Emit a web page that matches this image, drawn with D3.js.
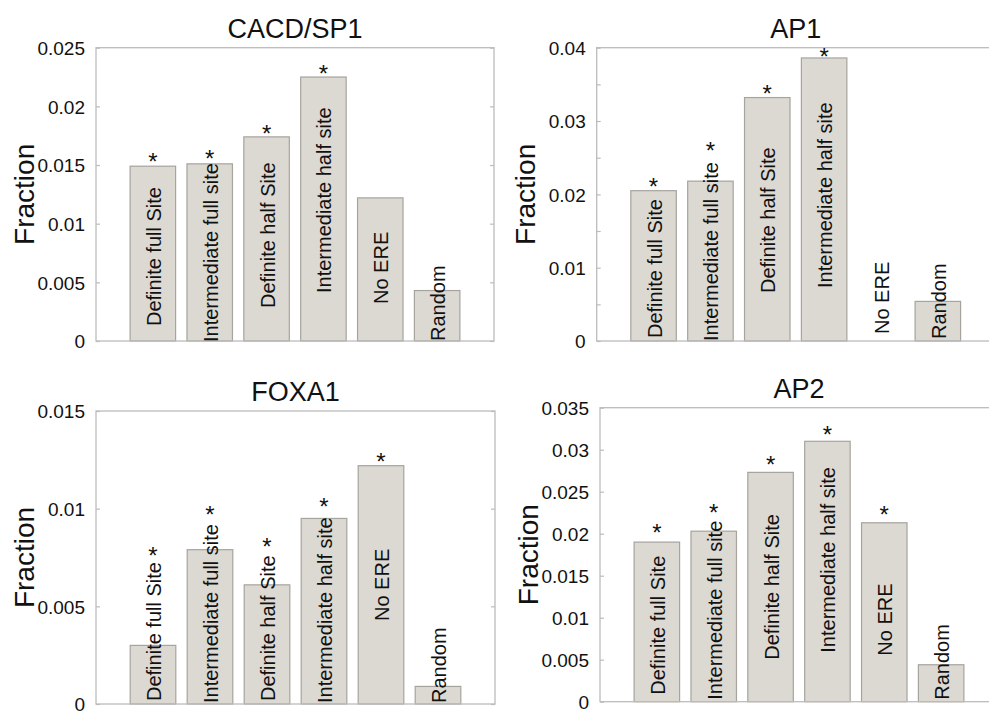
<!DOCTYPE html>
<html>
<head>
<meta charset="utf-8">
<script src="https://cdn.jsdelivr.net/npm/d3@7/dist/d3.min.js"></script>
<style>
  body { margin: 0; background: #ffffff; }
  svg { display: block; }
  text { font-family: "Liberation Sans", Arial, Helvetica, sans-serif; fill: #111111; }
</style>
</head>
<body>
<svg id="chart" width="989" height="711"></svg>
<script>
// ---- data ----
const categories = ["Definite full Site", "Intermediate full site", "Definite half Site",
                    "Intermediate half site", "No ERE", "Random"];
const titles = ["CACD/SP1", "AP1", "FOXA1", "AP2"];

const cacdValues  = [0.0149, 0.0151, 0.0174, 0.0225, 0.0122, 0.0043];
const ap1Values   = [0.0205, 0.0218, 0.0332, 0.0386, 0.0,    0.0054];
const foxa1Values = [0.0030, 0.0079, 0.0061, 0.0095, 0.0122, 0.0009];
const ap2Values   = [0.0190, 0.0203, 0.0273, 0.0310, 0.0213, 0.0044];

// significance markers (*) per bar
const cacdSignificant  = [true, true, true, true, false, false];
const ap1Significant   = [true, true, true, true, false, false];
const foxa1Significant = [true, true, true, true, true,  false];
const ap2Significant   = [true, true, true, true, true,  false];

// y-axis ticks and their labels
const cacdTicks  = [0, 0.005, 0.01, 0.015, 0.02, 0.025];
const cacdTickLabels  = ["0", "0.005", "0.01", "0.015", "0.02", "0.025"];
const ap1Ticks   = [0, 0.005, 0.01, 0.015, 0.02, 0.025, 0.03, 0.035, 0.04];
const ap1TickLabels   = ["0", "", "0.01", "", "0.02", "", "0.03", "", "0.04"];
const foxa1Ticks = [0, 0.005, 0.01, 0.015];
const foxa1TickLabels = ["0", "0.005", "0.01", "0.015"];
const ap2Ticks   = [0, 0.005, 0.01, 0.015, 0.02, 0.025, 0.03, 0.035];
const ap2TickLabels   = ["0", "0.005", "0.01", "0.015", "0.02", "0.025", "0.03", "0.035"];

const yLabel = "Fraction";

// ---- layout ----
const panels = [
  { title: titles[0], values: cacdValues,  sig: cacdSignificant,  ticks: cacdTicks,  tickLabels: cacdTickLabels,
    box: { left: 96,  top: 47.7,  width: 398, height: 293.3 },
    labelLift: [15, -1, 33, 48, 37, 0],   starGap: [9.5, 10.5, 9, 9, 0, 0] },
  { title: titles[1], values: ap1Values,   sig: ap1Significant,   ticks: ap1Ticks,   tickLabels: ap1TickLabels,
    box: { left: 596.7, top: 47.7, width: 398, height: 293.3 },
    labelLift: [3, 0, 48, 53, 7, 2],      starGap: [9.7, 36, 9.4, 6.5, 0, 0] },
  { title: titles[2], values: foxa1Values, sig: foxa1Significant, ticks: foxa1Ticks, tickLabels: foxa1TickLabels,
    box: { left: 96,  top: 411,   width: 399, height: 293 },
    labelLift: [3, 1, 3, 1, 83, 1],       starGap: [95, 40, 44, 17, 9.3, 0] },
  { title: titles[3], values: ap2Values,   sig: ap2Significant,   ticks: ap2Ticks,   tickLabels: ap2TickLabels,
    box: { left: 600, top: 407.7, width: 398, height: 294 },
    labelLift: [7, 2, 42, 49, 46, 2],     starGap: [15, 23.7, 12.7, 12.4, 13.3, 0] }
];

const style = {
  barFill: "#dcd8d2", barStroke: "#a7a39e", axisStroke: "#bcbcbc",
  titleSize: 27, tickSize: 19, yLabelSize: 28, barLabelSize: 20, starSize: 24
};

const svg = d3.select("#chart");

panels.forEach(p => {
  const { left, top, width, height } = p.box;
  const unit = width / 7; // x axis spans 0..7 with bars centred at 1..6
  const g = svg.append("g").attr("transform", `translate(${left},${top})`);

  const x = d3.scaleBand()
    .domain(categories)
    .range([0.5 * unit, 6.5 * unit])
    .paddingInner(0.2)
    .paddingOuter(0.1);

  const yMax = p.ticks[p.ticks.length - 1];
  const y = d3.scaleLinear().domain([0, yMax]).range([height, 0]);

  // bars
  g.selectAll("rect.bar")
    .data(p.values.map((v, i) => ({ v, c: categories[i], i })).filter(d => d.v > 0))
    .join("rect")
    .attr("class", "bar")
    .attr("x", d => x(d.c))
    .attr("width", x.bandwidth())
    .attr("y", d => y(d.v))
    .attr("height", d => height - y(d.v))
    .attr("fill", style.barFill)
    .attr("stroke", style.barStroke)
    .attr("stroke-width", 1.2);

  // axis box
  g.append("rect")
    .attr("x", 0).attr("y", 0).attr("width", width).attr("height", height)
    .attr("fill", "none").attr("stroke", style.axisStroke).attr("stroke-width", 1.3);

  // left axis with inward ticks
  const labelFor = new Map(p.ticks.map((t, i) => [t, p.tickLabels[i]]));
  const leftAxis = d3.axisLeft(y)
    .tickValues(p.ticks)
    .tickSize(-4)
    .tickPadding(11)
    .tickFormat(t => labelFor.get(t));
  const la = g.append("g").call(leftAxis);
  la.select(".domain").remove();
  la.selectAll(".tick line").attr("stroke", style.axisStroke).attr("stroke-width", 1.2);
  la.selectAll(".tick text")
    .attr("font-size", style.tickSize)
    .attr("font-family", "Liberation Sans, Arial, sans-serif")
    .attr("fill", "#111")
    .attr("dy", "0.36em");

  // right axis ticks (inward, unlabeled)
  const ra = g.append("g").attr("transform", `translate(${width},0)`)
    .call(d3.axisRight(y).tickValues(p.ticks).tickSize(-4).tickFormat(""));
  ra.select(".domain").remove();
  ra.selectAll(".tick line").attr("stroke", style.axisStroke).attr("stroke-width", 1.2);

  // rotated category labels inside the bars
  categories.forEach((c, i) => {
    const cx = x(c) + x.bandwidth() / 2 + 1;
    g.append("text")
      .attr("transform", `translate(${cx},${height - p.labelLift[i]}) rotate(-90)`)
      .attr("text-anchor", "start")
      .attr("dominant-baseline", "central")
      .attr("font-size", style.barLabelSize)
      .text(c);
  });

  // significance stars
  categories.forEach((c, i) => {
    if (!p.sig[i]) return;
    const cx = x(c) + x.bandwidth() / 2;
    const cy = y(p.values[i]) - p.starGap[i];
    g.append("text")
      .attr("x", cx)
      .attr("y", cy + 0.575 * style.starSize)
      .attr("text-anchor", "middle")
      .attr("font-size", style.starSize)
      .text("*");
  });

  // title
  g.append("text")
    .attr("x", width / 2)
    .attr("y", -10)
    .attr("text-anchor", "middle")
    .attr("font-size", style.titleSize)
    .text(p.title);

  // y label
  g.append("text")
    .attr("transform", `translate(${-62},${height / 2}) rotate(-90)`)
    .attr("text-anchor", "middle")
    .attr("font-size", style.yLabelSize)
    .text(yLabel);
});
</script>
</body>
</html>
